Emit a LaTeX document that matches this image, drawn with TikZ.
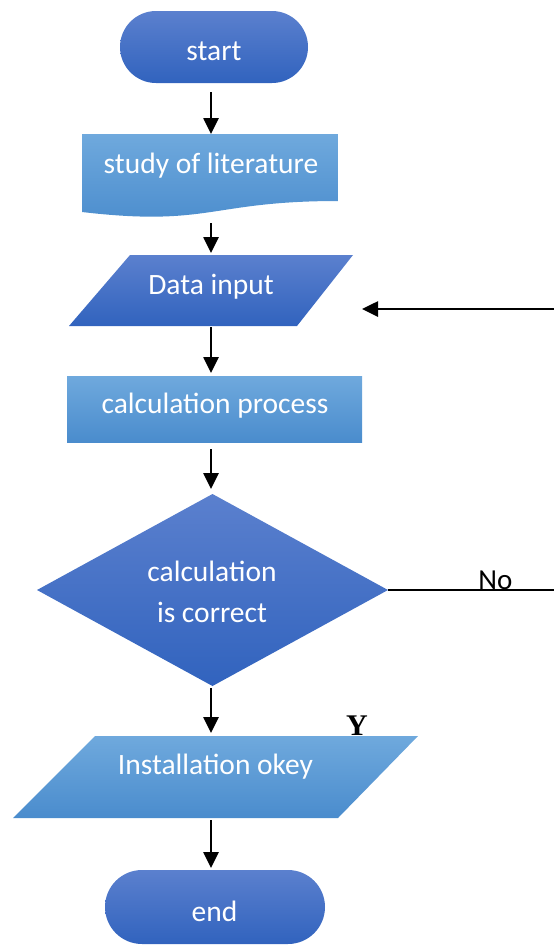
\documentclass[tikz,border=0pt]{standalone}
\usepackage{fontspec}
\setmainfont{Carlito}
\newfontfamily\serifY{Liberation Serif}
\usetikzlibrary{arrows.meta,shapes.misc,shapes.geometric}
\definecolor{deepTop}{HTML}{5B80CE}
\definecolor{deepBot}{HTML}{3163BE}
\definecolor{paleTop}{HTML}{6FA9DD}
\definecolor{paleBot}{HTML}{4A8CCD}
\tikzset{
  deep/.style={top color=deepTop, bottom color=deepBot, draw=none},
  pale/.style={top color=paleTop, bottom color=paleBot, draw=none},
  frame/.style={inner sep=0pt, outer sep=0pt},
  lbl/.style={text=white, font=\fontsize{29.5}{35}\selectfont, anchor=base, inner sep=0pt},
  flow/.style={line width=2.6pt, -{Triangle[length=16pt,width=15pt]}},
}
\begin{document}
\begin{tikzpicture}[x=1pt,y=-1pt]
\useasboundingbox (0,0) rectangle (554,946);

% "Y" mark, partly tucked behind the output box
\node[anchor=base, inner sep=0pt, font=\serifY\bfseries\fontsize{30}{30}\selectfont] (yesText) at (357,735) {Y};

% terminals and boxes
\node[frame, rounded rectangle, deep, minimum width=188pt, minimum height=72pt] (start) at (214,47) {};
\node[frame, minimum width=256pt, minimum height=84pt] (study) at (210,176) {};
\shade[pale] (82,134) -- (338,134) -- (338,201) .. controls (210,201) and (210,227) .. (82,212) -- cycle;
\node[frame, minimum width=284pt, minimum height=71pt] (data) at (211,290.5) {};
\shade[deep] (130,255) -- (353,255) -- (297,326) -- (69,326) -- cycle;
\node[frame, rectangle, pale, minimum width=295pt, minimum height=66pt] (calc) at (214.5,409) {};
\node[frame, diamond, deep, minimum width=351pt, minimum height=192pt] (check) at (212.5,590) {};
\node[frame, minimum width=405pt, minimum height=82pt] (install) at (215.5,777) {};
\shade[pale] (95,736) -- (418,736) -- (338,818) -- (13,818) -- cycle;
\node[frame, rounded rectangle, deep, minimum width=220pt, minimum height=74pt] (finish) at (215,907) {};

% texts
\node[lbl] (startText) at (214,60) {start};
\node[lbl] (studyText) at (211,173) {study of literature};
\node[lbl] (dataText) at (211,294) {Data input};
\node[lbl] (calcText) at (215,413) {calculation process};
\node[lbl] (checkTextA) at (212,581) {calculation};
\node[lbl] (checkTextB) at (212,622) {is correct};
\node[lbl] (installText) at (215.5,774) {Installation okey};
\node[lbl] (finishText) at (214.5,921) {end};

% main flow
\coordinate (spine) at (211,0);
\draw[flow, shorten <=9pt] (start.south -| spine) -- (study.north -| spine);
\draw[flow, shorten <=5pt, shorten >=2pt] (study.south -| spine) -- (data.north -| spine);
\draw[flow, shorten <=1pt, shorten >=3pt] (data.south -| spine) -- (calc.north -| spine);
\draw[flow, shorten <=7pt, shorten >=5pt] (calc.south -| spine) -- (check.north -| spine);
\draw[flow, shorten <=2pt, shorten >=3pt] (check.south -| spine) -- (install.north -| spine);
\draw[flow, shorten <=2pt, shorten >=2pt] (install.south -| spine) -- (finish.north -| spine);

% "No" branch and return into the input step
\coordinate (noOut) at (554,590);
\draw[line width=2pt] (check.east) -- (noOut);
\node[anchor=base, inner sep=0pt, font=\fontsize{29}{34}\selectfont] (noText) at (495.5,589) {No};
\coordinate (loopIn) at (554,309);
\draw[flow, shorten >=9pt] (loopIn) -- (loopIn -| data.east);
\end{tikzpicture}
\end{document}
